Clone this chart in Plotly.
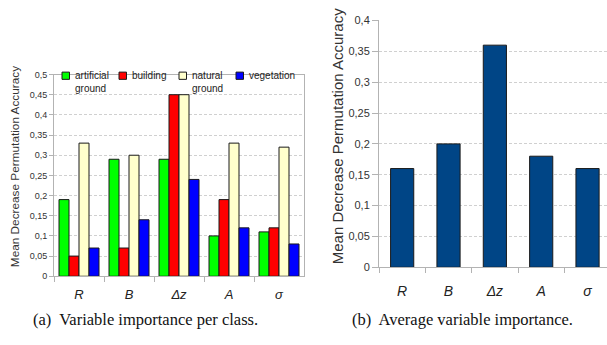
import plotly.graph_objects as go

categories = ["R", "B", "Δz", "A", "σ"]
class_names = ["artificial ground", "building", "natural ground", "vegetation"]
artificial_ground = [0.19, 0.29, 0.29, 0.10, 0.11]
building = [0.05, 0.07, 0.45, 0.19, 0.12]
natural_ground = [0.33, 0.30, 0.45, 0.33, 0.32]
vegetation = [0.07, 0.14, 0.24, 0.12, 0.08]
average = [0.16, 0.20, 0.36, 0.18, 0.16]
left_ticks = [0, 0.05, 0.1, 0.15, 0.2, 0.25, 0.3, 0.35, 0.4, 0.45, 0.5]
right_ticks = [0, 0.05, 0.1, 0.15, 0.2, 0.25, 0.3, 0.35, 0.4]

class_values = [artificial_ground, building, natural_ground, vegetation]
class_colors = ["#00ff00", "#ff0000", "#ffffcc", "#0000ff"]
legend_labels = ["artificial<br>ground", "building", "natural<br>ground", "vegetation"]

W, H = 607, 345
fig = go.Figure()

cat_labels = [f"<i>{c}</i>" for c in categories]

for name, vals, col in zip(class_names, class_values, class_colors):
    fig.add_trace(go.Bar(x=cat_labels, y=vals, name=name, marker_color=col,
                         marker_line_color="#1a1a1a", marker_line_width=1,
                         xaxis="x", yaxis="y", showlegend=False))

fig.add_trace(go.Bar(x=cat_labels, y=average, marker_color="#004586",
                     marker_line_color="#1a1a1a", marker_line_width=1, width=0.5,
                     xaxis="x2", yaxis="y2", showlegend=False))

def px_x(p):
    return p / W

def px_y(p):
    return (H - p) / H

grid = dict(showgrid=True, gridcolor="#d0d0d0", griddash="3px,2px", gridwidth=1)
axfont = dict(family="Liberation Sans", color="#333333")

fig.update_layout(
    width=W, height=H, margin=dict(l=0, r=0, t=0, b=0),
    paper_bgcolor="white", plot_bgcolor="white",
    separators=", ",
    barmode="group", bargap=0.2, bargroupgap=0,
    xaxis=dict(domain=[px_x(54), px_x(304)], anchor="y", type="category",
               tickson="boundaries", ticks="outside", ticklen=5, tickcolor="#b3b3b3",
               showline=True, linecolor="#b3b3b3", mirror=True, showgrid=False,
               ticklabelstandoff=6,
               tickfont=dict(family="Liberation Sans", size=13, color="#222222"),
               range=[-0.5, 4.5]),
    yaxis=dict(domain=[px_y(280), px_y(71)], anchor="x", range=[0, 0.5],
               tickvals=left_ticks, tickformat=".2~f", ticks="outside", ticklen=4,
               tickcolor="#b3b3b3", showline=True, linecolor="#b3b3b3", mirror=True,
               tickfont=dict(size=9, **axfont), zeroline=False, **grid),
    xaxis2=dict(domain=[px_x(379), 1.0], anchor="y2", type="category",
                tickson="boundaries", ticks="outside", ticklen=5, tickcolor="#b3b3b3",
                showline=True, linecolor="#b3b3b3", showgrid=False,
                ticklabelstandoff=11,
                tickfont=dict(family="Liberation Sans", size=14, color="#222222"),
                range=[-0.5, 4.42]),
    yaxis2=dict(domain=[px_y(270.7), px_y(15)], anchor="x2", range=[0, 0.4],
                tickvals=right_ticks, tickformat=".2~f", ticks="outside", ticklen=6,
                tickcolor="#b3b3b3", showline=True, linecolor="#b3b3b3",
                tickfont=dict(size=11, **axfont), zeroline=False, **grid),
)

annotations = []
shapes = []

# legend (manual, compact like the reference)
leg_x = [62, 119, 179, 236]
for lx, lab, col in zip(leg_x, legend_labels, class_colors):
    shapes.append(dict(type="rect", xref="paper", yref="paper",
                       x0=px_x(lx), x1=px_x(lx + 7.5), y0=px_y(76), y1=px_y(68.5),
                       fillcolor=col, line=dict(color="#1a1a1a", width=1)))
    annotations.append(dict(text=lab, xref="paper", yref="paper", x=px_x(lx + 11),
                            y=px_y(64), xanchor="left", yanchor="top", align="left",
                            showarrow=False,
                            font=dict(family="Liberation Sans", size=10, color="#222222")))

# axis titles
annotations.append(dict(text="Mean Decrease Permutation Accuracy", xref="paper", yref="paper",
                        x=px_x(15), y=px_y(167), textangle=-90, showarrow=False,
                        xanchor="center", yanchor="middle",
                        font=dict(family="Liberation Sans", size=11.8, color="#333333")))
annotations.append(dict(text="Mean Decrease Permutation Accuracy", xref="paper", yref="paper",
                        x=px_x(337), y=px_y(135), textangle=-90, showarrow=False,
                        xanchor="center", yanchor="middle",
                        font=dict(family="Liberation Sans", size=15, color="#333333")))

# captions
annotations.append(dict(text="(a)\u00a0 Variable importance per class.", xref="paper", yref="paper",
                        x=px_x(145), y=px_y(325), showarrow=False, xanchor="center",
                        yanchor="middle",
                        font=dict(family="Liberation Serif", size=16.5, color="#111111")))
annotations.append(dict(text="(b)\u00a0 Average variable importance.", xref="paper", yref="paper",
                        x=px_x(462), y=px_y(325), showarrow=False, xanchor="center",
                        yanchor="middle",
                        font=dict(family="Liberation Serif", size=16.5, color="#111111")))

fig.update_layout(annotations=annotations, shapes=shapes)
fig.write_html("out.html", config={"displayModeBar": False},
               post_script="document.body.style.margin='0';document.body.style.overflow='hidden';")
